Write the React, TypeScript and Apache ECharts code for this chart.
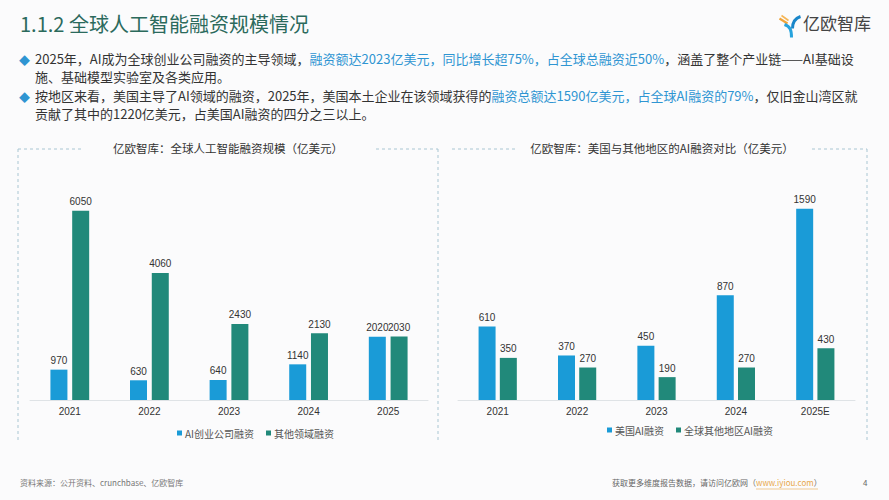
import React, { useEffect, useRef } from "react";
import * as echarts from "echarts";

const leftCategories = ["2021", "2022", "2023", "2024", "2025"];
const aiStartupFunding = [970, 630, 640, 1140, 2020];
const otherFieldFunding = [6050, 4060, 2430, 2130, 2030];

const rightCategories = ["2021", "2022", "2023", "2024", "2025E"];
const usAiFunding = [610, 370, 450, 870, 1590];
const otherRegionAiFunding = [350, 270, 190, 270, 430];

const FONT = "'Noto Sans CJK SC', 'Noto Sans', sans-serif";
const NUMFONT = "'Liberation Sans', Arial, sans-serif";
const BLUE = "#1a9bd7";
const GREEN = "#21897a";
const DASH = "#a9c6d3";

export default function App() {
  const ref = useRef<HTMLDivElement>(null);
  useEffect(() => {
    if (!ref.current) return;
    const chart = echarts.init(ref.current, null, { renderer: "svg" });
    const barLabel = {
      show: true,
      position: "top",
      distance: 4,
      fontSize: 10,
      color: "#333",
      fontFamily: NUMFONT,
    };
    const xAxisCommon = {
      type: "category",
      axisLine: { lineStyle: { color: "#dfe3e6", width: 1 } },
      axisTick: { show: false },
      axisLabel: { fontSize: 10, color: "#333", margin: 6, fontFamily: NUMFONT },
    };
    const dashLine = (x1: number, y1: number, x2: number, y2: number) => ({
      type: "line",
      shape: { x1, y1, x2, y2 },
      style: { stroke: DASH, lineWidth: 1, lineDash: [3, 3] },
      silent: true,
    });
    const rich = {
      n: { fontSize: 13, fill: "#333", fontFamily: FONT },
      b: { fontSize: 13, fill: "#2f95d2", fontFamily: FONT },
    };
    chart.setOption({
      animation: false,
      backgroundColor: "#fbfbfc",
      textStyle: { fontFamily: FONT },
      grid: [
        { left: 30, top: 181, width: 398, height: 219 },
        { left: 458, top: 183.4, width: 397, height: 216.6 },
      ],
      xAxis: [
        { ...xAxisCommon, gridIndex: 0, data: leftCategories },
        { ...xAxisCommon, gridIndex: 1, data: rightCategories },
      ],
      yAxis: [
        { type: "value", gridIndex: 0, min: 0, max: 7000, show: false, splitLine: { show: false } },
        { type: "value", gridIndex: 1, min: 0, max: 1800, show: false, splitLine: { show: false } },
      ],
      legend: [
        {
          data: ["AI创业公司融资", "其他领域融资"],
          left: 172,
          top: 423,
          itemWidth: 5,
          itemHeight: 5,
          itemGap: 12,
          icon: "rect",
          textStyle: { fontSize: 10, color: "#555", fontFamily: FONT, padding: [0, 0, 0, -2] },
        },
        {
          data: ["美国AI融资", "全球其他地区AI融资"],
          left: 602,
          top: 420,
          itemWidth: 5,
          itemHeight: 5,
          itemGap: 12,
          icon: "rect",
          textStyle: { fontSize: 10, color: "#555", fontFamily: FONT, padding: [0, 0, 0, -2] },
        },
      ],
      series: [
        {
          name: "AI创业公司融资",
          type: "bar",
          xAxisIndex: 0,
          yAxisIndex: 0,
          data: aiStartupFunding,
          barWidth: 17,
          barGap: "28%",
          itemStyle: { color: BLUE },
          label: barLabel,
        },
        {
          name: "其他领域融资",
          type: "bar",
          xAxisIndex: 0,
          yAxisIndex: 0,
          data: otherFieldFunding,
          barWidth: 17,
          barGap: "28%",
          itemStyle: { color: GREEN },
          label: barLabel,
        },
        {
          name: "美国AI融资",
          type: "bar",
          xAxisIndex: 1,
          yAxisIndex: 1,
          data: usAiFunding,
          barWidth: 17,
          barGap: "25%",
          itemStyle: { color: BLUE },
          label: barLabel,
        },
        {
          name: "全球其他地区AI融资",
          type: "bar",
          xAxisIndex: 1,
          yAxisIndex: 1,
          data: otherRegionAiFunding,
          barWidth: 17,
          barGap: "25%",
          itemStyle: { color: GREEN },
          label: barLabel,
        },
      ],
      graphic: [
        {
          type: "text",
          left: 20,
          top: 13,
          style: { text: "1.1.2 全球人工智能融资规模情况", fontSize: 20, fill: "#2b6a5c", fontFamily: FONT },
        },
        // logo
        {
          type: "group",
          left: 777,
          top: 13,
          children: [
            { type: "line", shape: { x1: 1, y1: 4, x2: 9, y2: 9 }, style: { stroke: "#f0a43a", lineWidth: 2.2 } },
            { type: "line", shape: { x1: 3, y1: 1, x2: 10, y2: 6 }, style: { stroke: "#f5b657", lineWidth: 1.6 } },
            { type: "bezierCurve", shape: { x1: 6, y1: 10, cpx1: 12, cpy1: 12, cpx2: 13, cpy2: 16, x2: 13, y2: 23 }, style: { stroke: "#27a3dd", lineWidth: 3, fill: "none" } },
            { type: "bezierCurve", shape: { x1: 22, y1: 2, cpx1: 16, cpy1: 4, cpx2: 14, cpy2: 9, x2: 14, y2: 14 }, style: { stroke: "#1a86c9", lineWidth: 3, fill: "none" } },
          ],
        },
        {
          type: "text",
          left: 803,
          top: 14,
          style: { text: "亿欧智库", fontSize: 17, fill: "#444", fontFamily: FONT },
        },
        // bullets
        { type: "text", left: 19, top: 54, style: { text: "◆", fontSize: 11, fill: "#2f95d2", fontFamily: FONT } },
        {
          type: "text",
          left: 35,
          top: 52,
          style: {
            text: "{n|2025年，AI成为全球创业公司融资的主导领域，}{b|融资额达2023亿美元，同比增长超75%，占全球总融资近50%}{n|，涵盖了整个产业链——AI基础设}",
            rich,
          },
        },
        { type: "text", left: 35, top: 70, style: { text: "施、基础模型实验室及各类应用。", fontSize: 13, fill: "#333", fontFamily: FONT } },
        { type: "text", left: 19, top: 91, style: { text: "◆", fontSize: 11, fill: "#2f95d2", fontFamily: FONT } },
        {
          type: "text",
          left: 35,
          top: 89,
          style: {
            text: "{n|按地区来看，美国主导了AI领域的融资，2025年，美国本土企业在该领域获得的}{b|融资总额达1590亿美元，占全球AI融资的79%}{n|，仅旧金山湾区就}",
            rich,
          },
        },
        { type: "text", left: 35, top: 107, style: { text: "贡献了其中的1220亿美元，占美国AI融资的四分之三以上。", fontSize: 13, fill: "#333", fontFamily: FONT } },
        // panel titles
        {
          type: "text",
          x: 228,
          y: 148,
          style: { text: "亿欧智库：全球人工智能融资规模（亿美元）", fontSize: 11.5, fill: "#333", fontFamily: FONT, align: "center", verticalAlign: "middle" },
        },
        {
          type: "text",
          x: 662,
          y: 148,
          style: { text: "亿欧智库：美国与其他地区的AI融资对比（亿美元）", fontSize: 11.5, fill: "#333", fontFamily: FONT, align: "center", verticalAlign: "middle" },
        },
        // dashed panel frames
        dashLine(18, 149, 84, 149),
        dashLine(376, 149, 438, 149),
        dashLine(18, 149, 18, 440),
        dashLine(438, 149, 438, 440),
        dashLine(452, 149, 517, 149),
        dashLine(812, 149, 867, 149),
        dashLine(867, 149, 867, 440),
        // footer
        { type: "text", left: 20, top: 478, style: { text: "资料来源：公开资料、crunchbase、亿欧智库", fontSize: 8, fill: "#777", fontFamily: FONT } },
        {
          type: "text",
          left: 612,
          top: 478,
          style: {
            text: "{n|获取更多维度报告数据，请访问亿欧网（}{l|www.iyiou.com}{n|）}",
            rich: {
              n: { fontSize: 8, fill: "#666", fontFamily: FONT },
              l: { fontSize: 8, fill: "#e8a84a", fontFamily: FONT },
            },
          },
        },
        { type: "line", shape: { x1: 756, y1: 489, x2: 818, y2: 489 }, style: { stroke: "#e8a84a", lineWidth: 0.6 } },
        { type: "text", left: 863, top: 478, style: { text: "4", fontSize: 8, fill: "#666", fontFamily: FONT } },
      ],
    });
    return () => chart.dispose();
  }, []);
  return (
    <div
      ref={ref}
      style={{ position: "fixed", left: 0, top: 0, width: 889, height: 500 }}
    />
  );
}
